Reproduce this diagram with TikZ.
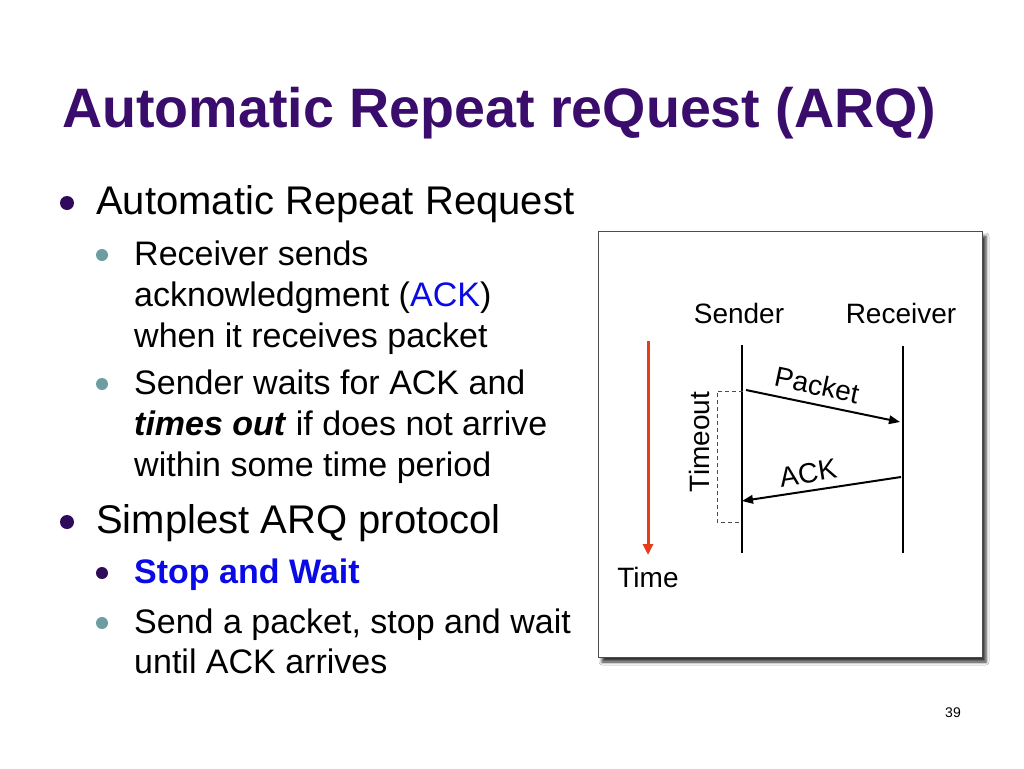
\documentclass[tikz,border=0pt]{standalone}
\usepackage{fontspec}
\setmainfont{Liberation Sans}
\usetikzlibrary{arrows.meta,shadows.blur}
\definecolor{titlepurple}{HTML}{3A0C6C}
\definecolor{bulletpurple}{HTML}{2F0A5C}
\definecolor{bulletteal}{HTML}{6C9DA1}
\definecolor{textblue}{HTML}{0A0AE6}
\definecolor{timered}{HTML}{E63C1A}
\tikzset{
  titletext/.style={anchor=base west, inner sep=0pt, text=titlepurple, font=\fontsize{55.6}{66}\selectfont\bfseries},
  lonetext/.style={anchor=base west, inner sep=0pt, font=\fontsize{40}{48}\selectfont},
  ltwotext/.style={anchor=base west, inner sep=0pt, font=\fontsize{34}{40}\selectfont},
  lonedot/.style={fill=bulletpurple, draw=none},
  ltwodot/.style={fill=bulletteal, draw=none},
  diagtext/.style={inner sep=0pt, font=\fontsize{28}{32}\selectfont},
  lifeline/.style={line width=2.6pt},
  msg/.style={line width=2pt, -{Triangle[length=11pt,width=8.5pt]}},
}
\begin{document}
\begin{tikzpicture}[x=1pt,y=-1pt]
\useasboundingbox[fill=white] (0,0) rectangle (1024,768);

% title
\node[titletext] (title) at (62,127) {Automatic Repeat reQuest (ARQ)};

% bullets level one
\fill[lonedot] (67,203) circle (7);
\node[lonetext] (b1) at (96,214) {Automatic Repeat Request};
\fill[lonedot] (67,522) circle (7);
\node[lonetext] (b2) at (96,533) {Simplest ARQ protocol};

% bullets level two
\fill[ltwodot] (102,255) circle (6);
\node[ltwotext] (b11a) at (134,265) {Receiver sends};
\node[ltwotext] (b11b) at (134,306) {acknowledgment (\textcolor{textblue}{ACK})};
\node[ltwotext] (b11c) at (134,347) {when it receives packet};
\fill[ltwodot] (102,384) circle (6);
\node[ltwotext] (b12a) at (134,394) {Sender waits for ACK and};
\node[ltwotext] (b12b) at (134,435) {\textbf{\textit{times out}} if does not arrive};
\node[ltwotext] (b12c) at (134,476) {within some time period};
\fill[lonedot] (102,573) circle (6);
\node[ltwotext] (b21) at (134,583) {\textcolor{textblue}{\textbf{Stop and Wait}}};
\fill[ltwodot] (102,623) circle (6);
\node[ltwotext] (b22a) at (134,633) {Send a packet, stop and wait};
\node[ltwotext] (b22b) at (134,673) {until ACK arrives};

% diagram box
\node[draw=black!70, line width=0.8pt, fill=white, minimum width=384pt, minimum height=426pt, inner sep=0pt,
  blur shadow={shadow xshift=4pt, shadow yshift=-5pt, shadow blur radius=3pt, shadow opacity=80}] (box) at (790,444) {};

% labels
\node[diagtext, anchor=base] (sender) at (739,323) {Sender};
\node[diagtext, anchor=base] (receiver) at (901,323) {Receiver};
\node[diagtext, anchor=base] (time) at (648,587) {Time};

% lifelines
\coordinate (stop) at (742,345);
\coordinate (sbot) at (742,553);
\coordinate (rtop) at (903,346);
\coordinate (rbot) at (903,553);
\draw[lifeline] (stop) -- (sbot);
\draw[lifeline] (rtop) -- (rbot);

% time arrow
\coordinate (ttop) at (648,341);
\coordinate (tbot) at (648,555);
\draw[timered, line width=3pt, -{Triangle[length=11pt,width=10pt]}] (ttop) -- (tbot);

% messages
\coordinate (pstart) at (746,390);
\coordinate (pend) at (900,422);
\draw[msg] (pstart) -- (pend);
\node[diagtext, rotate=-12] (plabel) at (817,385) {Packet};

\coordinate (astart) at (901,477);
\coordinate (aend) at (742,501);
\draw[msg] (astart) -- (aend);
\node[diagtext, rotate=9] (alabel) at (808,473) {ACK};

% timeout bracket
\coordinate (to1) at (743,391);
\coordinate (to2) at (717,391);
\coordinate (to3) at (717,522);
\coordinate (to4) at (741,522);
\draw[black!70, line width=0.8pt, dash pattern=on 4pt off 3pt] (to1) -- (to2) -- (to3) -- (to4);
\node[diagtext, rotate=90] (timeout) at (699,442) {Timeout};

% page number
\node[inner sep=0pt, font=\fontsize{14}{16}\selectfont] (pagenum) at (953,713) {39};
\end{tikzpicture}
\end{document}
